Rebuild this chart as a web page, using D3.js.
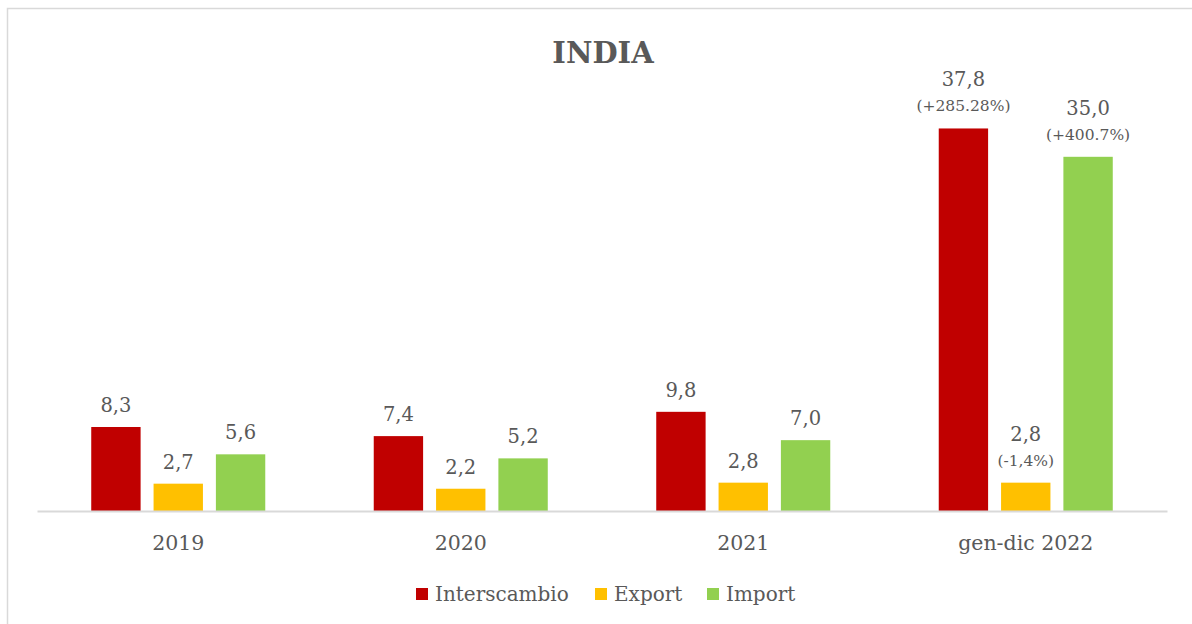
<!DOCTYPE html>
<html>
<head>
<meta charset="utf-8">
<script src="https://cdn.jsdelivr.net/npm/d3@7"></script>
<style>
  body { margin: 0; background: #fff; }
  text { font-family: "DejaVu Serif", serif; fill: #595959; }
</style>
</head>
<body>
<div id="chart"></div>
<script>
// data
var categories = ["2019", "2020", "2021", "gen-dic 2022"];
var seriesNames = ["Interscambio", "Export", "Import"];
var interscambio = [8.3, 7.4, 9.8, 37.8];
var exportVals = [2.7, 2.2, 2.8, 2.8];
var importVals = [5.6, 5.2, 7.0, 35.0];
// variation notes shown on the last period only
var notes = {
  "Interscambio": [null, null, null, "(+285.28%)"],
  "Export": [null, null, null, "(-1,4%)"],
  "Import": [null, null, null, "(+400.7%)"]
};
var colors = ["#C00000", "#FFC000", "#92D050"];

var width = 1192, height = 624;

var svg = d3.select("#chart")
    .append("svg")
    .attr("width", width)
    .attr("height", height);

// chart border
svg.append("rect")
    .attr("x", 7.5)
    .attr("y", 8.5)
    .attr("width", 1200)
    .attr("height", 640)
    .attr("fill", "none")
    .attr("stroke", "#d9d9d9")
    .attr("stroke-width", 1.5);

svg.append("text")
    .attr("x", 603)
    .attr("y", 63)
    .attr("text-anchor", "middle")
    .style("font-size", "29px")
    .style("font-weight", "bold")
    .text("INDIA");

var x0 = d3.scaleBand()
    .domain(categories)
    .range([37, 1167])
    .paddingInner(0.384)
    .paddingOuter(0.192);

var x1 = d3.scaleBand()
    .domain(seriesNames)
    .range([0, x0.bandwidth()])
    .paddingInner(0.208);

var y = d3.scaleLinear()
    .domain([0, 40])
    .range([511, 106.2]);

var data = categories.map(function (c, i) {
  return {
    cat: c,
    values: [
      {name: "Interscambio", v: interscambio[i], note: notes["Interscambio"][i]},
      {name: "Export", v: exportVals[i], note: notes["Export"][i]},
      {name: "Import", v: importVals[i], note: notes["Import"][i]}
    ]
  };
});

var fmt = function (v) { return v.toFixed(1).replace(".", ","); };

var groups = svg.append("g")
    .selectAll("g")
    .data(data)
    .enter()
    .append("g")
    .attr("transform", function (d) { return "translate(" + x0(d.cat) + ",0)"; });

groups.selectAll("rect")
    .data(function (d) { return d.values; })
    .enter()
    .append("rect")
    .attr("x", function (d) { return x1(d.name); })
    .attr("y", function (d) { return y(d.v); })
    .attr("width", x1.bandwidth())
    .attr("height", function (d) { return y(0) - y(d.v); })
    .attr("fill", function (d, i) { return colors[i]; });

// value labels
groups.selectAll("text.val")
    .data(function (d) { return d.values; })
    .enter()
    .append("text")
    .attr("class", "val")
    .attr("x", function (d) { return x1(d.name) + x1.bandwidth() / 2; })
    .attr("y", function (d) { return y(d.v) - (d.note ? 42 : 15); })
    .attr("text-anchor", "middle")
    .style("font-size", "19.5px")
    .text(function (d) { return fmt(d.v); });

groups.selectAll("text.note")
    .data(function (d) { return d.values.filter(function (v) { return v.note; }); })
    .enter()
    .append("text")
    .attr("class", "note")
    .attr("x", function (d) { return x1(d.name) + x1.bandwidth() / 2; })
    .attr("y", function (d) { return y(d.v) - 17; })
    .attr("text-anchor", "middle")
    .style("font-size", "15.5px")
    .text(function (d) { return d.note; });

// x axis
var xAxis = svg.append("g")
    .attr("transform", "translate(0,511)")
    .call(d3.axisBottom(x0).tickSize(0).tickPadding(24));
xAxis.select(".domain").attr("stroke", "#d9d9d9").attr("stroke-width", 2);
xAxis.selectAll("text")
    .style("font-size", "20.5px")
    .style("font-family", "DejaVu Serif, serif")
    .attr("fill", "#595959");

// legend
var legendX = [416, 595, 707];
var legend = svg.append("g")
    .selectAll("g")
    .data(seriesNames)
    .enter()
    .append("g")
    .attr("transform", function (d, i) { return "translate(" + legendX[i] + ",588)"; });
legend.append("rect")
    .attr("width", 12)
    .attr("height", 12)
    .attr("fill", function (d, i) { return colors[i]; });
legend.append("text")
    .attr("x", 19)
    .attr("y", 13)
    .style("font-size", "20px")
    .text(function (d) { return d; });
</script>
</body>
</html>
